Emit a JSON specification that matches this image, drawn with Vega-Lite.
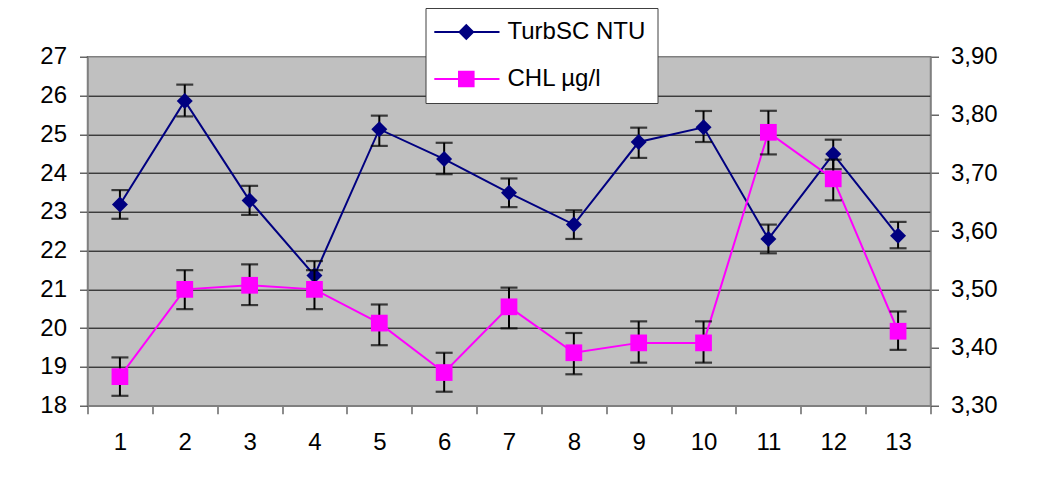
{
  "$schema": "https://vega.github.io/schema/vega-lite/v6.json",
  "autosize": "none",
  "width": 843,
  "height": 349,
  "padding": {"left": 87.5, "top": 56.7, "right": 124.5, "bottom": 89.3},
  "background": "white",
  "config": {
    "view": {"fill": "#C0C0C0", "stroke": "#808080", "strokeWidth": 1.5},
    "font": "Liberation Sans",
    "axis": {
      "labelFont": "Liberation Sans",
      "labelFontSize": 24,
      "labelColor": "black",
      "domainColor": "#808080",
      "domainWidth": 1.5,
      "tickColor": "#404040",
      "tickWidth": 1.2,
      "tickSize": 8,
      "title": null
    }
  },
  "datasets": {
    "turb": [
      {"x": 1, "series": "TurbSC NTU", "value": 23.19, "lo": 22.82, "hi": 23.56},
      {"x": 2, "series": "TurbSC NTU", "value": 25.86, "lo": 25.46, "hi": 26.28},
      {"x": 3, "series": "TurbSC NTU", "value": 23.29, "lo": 22.92, "hi": 23.67},
      {"x": 4, "series": "TurbSC NTU", "value": 21.36, "lo": 20.99, "hi": 21.73},
      {"x": 5, "series": "TurbSC NTU", "value": 25.13, "lo": 24.7, "hi": 25.48},
      {"x": 6, "series": "TurbSC NTU", "value": 24.36, "lo": 23.97, "hi": 24.78},
      {"x": 7, "series": "TurbSC NTU", "value": 23.49, "lo": 23.12, "hi": 23.86},
      {"x": 8, "series": "TurbSC NTU", "value": 22.67, "lo": 22.3, "hi": 23.04},
      {"x": 9, "series": "TurbSC NTU", "value": 24.8, "lo": 24.39, "hi": 25.17},
      {"x": 10, "series": "TurbSC NTU", "value": 25.18, "lo": 24.8, "hi": 25.6},
      {"x": 11, "series": "TurbSC NTU", "value": 22.3, "lo": 21.93, "hi": 22.67},
      {"x": 12, "series": "TurbSC NTU", "value": 24.49, "lo": 24.1, "hi": 24.86},
      {"x": 13, "series": "TurbSC NTU", "value": 22.38, "lo": 22.06, "hi": 22.74}
    ],
    "chl": [
      {"x": 1, "series": "CHL µg/l", "value": 3.35, "lo": 3.317, "hi": 3.383},
      {"x": 2, "series": "CHL µg/l", "value": 3.5, "lo": 3.466, "hi": 3.533},
      {"x": 3, "series": "CHL µg/l", "value": 3.507, "lo": 3.473, "hi": 3.543},
      {"x": 4, "series": "CHL µg/l", "value": 3.5, "lo": 3.466, "hi": 3.533},
      {"x": 5, "series": "CHL µg/l", "value": 3.442, "lo": 3.404, "hi": 3.474},
      {"x": 6, "series": "CHL µg/l", "value": 3.357, "lo": 3.324, "hi": 3.391},
      {"x": 7, "series": "CHL µg/l", "value": 3.47, "lo": 3.433, "hi": 3.503},
      {"x": 8, "series": "CHL µg/l", "value": 3.391, "lo": 3.354, "hi": 3.425},
      {"x": 9, "series": "CHL µg/l", "value": 3.408, "lo": 3.374, "hi": 3.445},
      {"x": 10, "series": "CHL µg/l", "value": 3.408, "lo": 3.374, "hi": 3.445},
      {"x": 11, "series": "CHL µg/l", "value": 3.77, "lo": 3.732, "hi": 3.807},
      {"x": 12, "series": "CHL µg/l", "value": 3.69, "lo": 3.653, "hi": 3.723},
      {"x": 13, "series": "CHL µg/l", "value": 3.428, "lo": 3.396, "hi": 3.462}
    ]
  },
  "encoding": {
    "x": {
      "field": "x",
      "type": "ordinal",
      "scale": {"type": "band", "paddingInner": 0, "paddingOuter": 0},
      "axis": {"labelAngle": 0, "tickBand": "extent", "labelPadding": 17, "grid": false}
    }
  },
  "layer": [
    {
      "data": {"name": "turb"},
      "encoding": {
        "y": {
          "field": "value",
          "type": "quantitative",
          "scale": {"domain": [18, 27], "nice": false, "zero": false},
          "axis": {
            "orient": "left",
            "values": [18, 19, 20, 21, 22, 23, 24, 25, 26, 27],
            "format": "d",
            "labelPadding": 13,
            "grid": true,
            "gridColor": {"condition": {"test": "datum.value == 18 || datum.value == 27", "value": "transparent"}, "value": "black"},
            "gridWidth": 1
          }
        }
      },
      "layer": [
        {
          "mark": {"type": "line", "strokeWidth": 2},
          "encoding": {
            "color": {
              "field": "series",
              "type": "nominal",
              "scale": {"domain": ["TurbSC NTU", "CHL µg/l"], "range": ["#000080", "#FF00FF"]},
              "legend": {
                "orient": "none",
                "legendX": 338,
                "legendY": -48.7,
                "title": null,
                "labelFont": "Liberation Sans",
                "labelFontSize": 24,
                "labelColor": "black",
                "symbolSize": 256,
                "labelOffset": 46,
                "rowPadding": 23,
                "padding": 12,
                "strokeColor": "#404040",
                "fillColor": "white",
                "encode": {
                  "symbols": {
                    "update": {
                      "shape": {"signal": "datum.value == 'TurbSC NTU' ? 'M-1.9,0H6.25M2.1,-0.85L2.95,0L2.1,0.85L1.25,0Z' : 'M-1.9,0H6.25M1.19,-0.91H3.01V0.91H1.19Z'"},
                      "fill": {"signal": "datum.value == 'TurbSC NTU' ? '#000080' : '#FF00FF'"},
                      "stroke": {"signal": "datum.value == 'TurbSC NTU' ? '#000080' : '#FF00FF'"},
                      "strokeWidth": {"value": 2},
                      "opacity": {"value": 1},
                      "fillOpacity": {"value": 1}
                    }
                  }
                }
              }
            }
          }
        },
        {
          "mark": {"type": "rule", "color": "black", "strokeWidth": 2},
          "encoding": {"y": {"field": "lo", "type": "quantitative"}, "y2": {"field": "hi"}}
        },
        {
          "mark": {"type": "tick", "color": "black", "size": 17, "thickness": 2.2},
          "encoding": {"y": {"field": "lo", "type": "quantitative"}}
        },
        {
          "mark": {"type": "tick", "color": "black", "size": 17, "thickness": 2.2},
          "encoding": {"y": {"field": "hi", "type": "quantitative"}}
        },
        {
          "mark": {"type": "point", "filled": true, "opacity": 1, "size": 256, "shape": "diamond"},
          "encoding": {"color": {"field": "series", "type": "nominal"}}
        }
      ]
    },
    {
      "data": {"name": "chl"},
      "encoding": {
        "y": {
          "field": "value",
          "type": "quantitative",
          "scale": {"domain": [3.3, 3.9], "nice": false, "zero": false},
          "axis": {
            "orient": "right",
            "values": [3.3, 3.4, 3.5, 3.6, 3.7, 3.8, 3.9],
            "labelExpr": "replace(format(datum.value, '.2f'), '.', ',')",
            "labelPadding": 12,
            "grid": false
          }
        }
      },
      "layer": [
        {
          "mark": {"type": "line", "strokeWidth": 2},
          "encoding": {"color": {"field": "series", "type": "nominal"}}
        },
        {
          "mark": {"type": "rule", "color": "black", "strokeWidth": 2},
          "encoding": {"y": {"field": "lo", "type": "quantitative"}, "y2": {"field": "hi"}}
        },
        {
          "mark": {"type": "tick", "color": "black", "size": 17, "thickness": 2.2},
          "encoding": {"y": {"field": "lo", "type": "quantitative"}}
        },
        {
          "mark": {"type": "tick", "color": "black", "size": 17, "thickness": 2.2},
          "encoding": {"y": {"field": "hi", "type": "quantitative"}}
        },
        {
          "mark": {"type": "point", "filled": true, "opacity": 1, "size": 280, "shape": "square"},
          "encoding": {"color": {"field": "series", "type": "nominal"}}
        }
      ]
    }
  ],
  "resolve": {"scale": {"y": "independent"}}
}
